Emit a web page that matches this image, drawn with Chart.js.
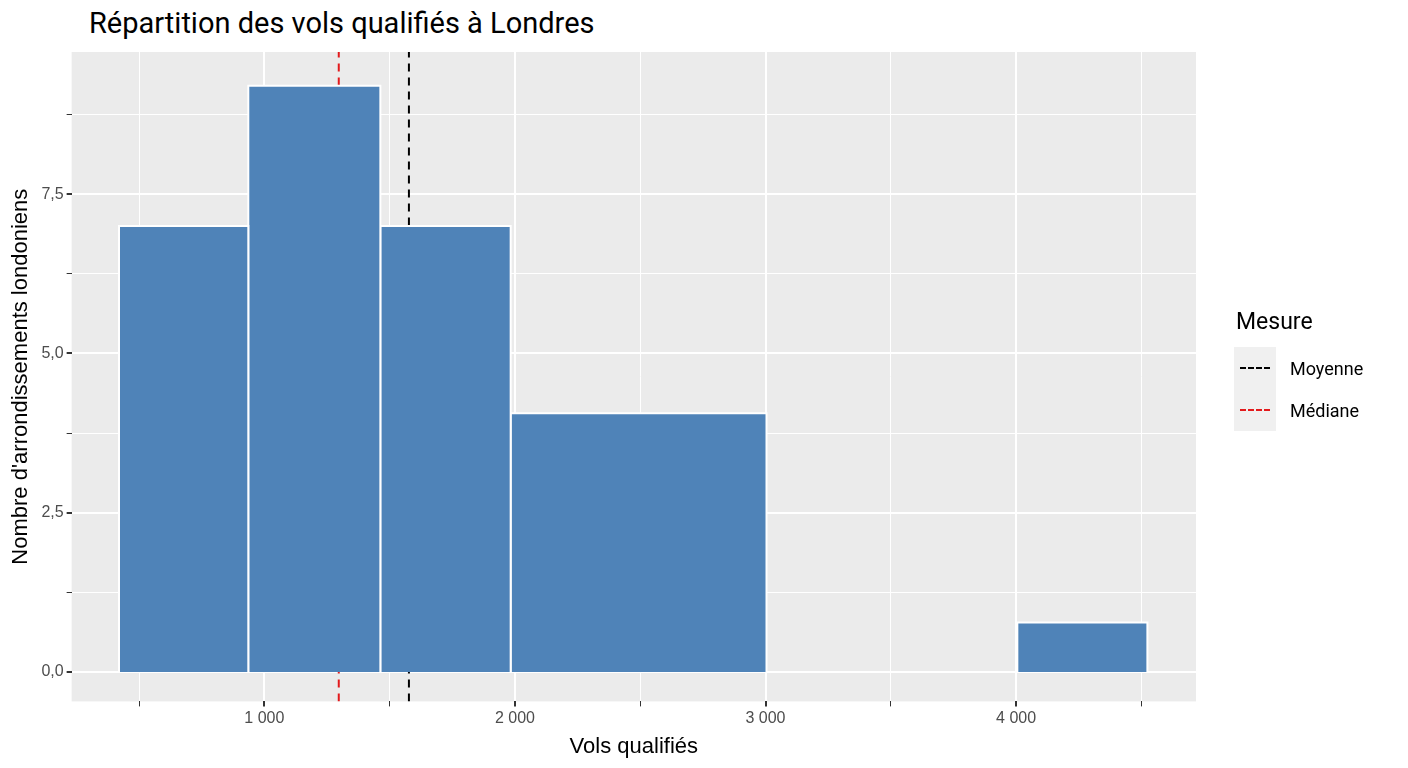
<!DOCTYPE html>
<html>
<head>
<meta charset="utf-8">
<script src="https://cdn.jsdelivr.net/npm/chart.js@4"></script>
<style>
  body { margin: 0; background: #fff; font-family: Roboto, "Liberation Sans", sans-serif; }
  #wrap { position: relative; width: 1408px; height: 768px; }
  #title { position: absolute; left: 89px; top: 6px; font-size: 29px; color: #000; }
  #legend { position: absolute; left: 1226px; top: 308px; font-size: 18px; color: #000; }
  #legend .head { font-size: 23px; margin: 0 0 12px 10px; }
  #legend .row { display: flex; align-items: center; height: 42px; padding-left: 8px; }
  #legend .key { width: 42px; height: 42px; background: #f0f0f0; position: relative; margin-right: 14px; }
  #legend .key i { position: absolute; left: 6px; right: 6px; top: 20px; border-top: 2px dashed; }
  canvas { position: absolute; left: 0; top: 0; }
</style>
</head>
<body>
<div id="wrap">
  <div id="title">Répartition des vols qualifiés à Londres</div>
  <canvas id="c" width="1408" height="768"></canvas>
  <div id="legend">
    <div class="head">Mesure</div>
    <div class="row"><div class="key"><i style="border-color:#000"></i></div>Moyenne</div>
    <div class="row"><div class="key"><i style="border-color:#e31a1c"></i></div>Médiane</div>
  </div>
</div>
<script>
// ── Data ───────────────────────────────────────────────
const binStarts = [420, 936, 1463, 1983, 4005];
const binEnds   = [936, 1463, 1983, 3004, 4524];
const counts    = [7, 9.2, 7, 4.06, 0.78];
const meanValue = 1577;
const medianValue = 1297;
const xTicks = [1000, 2000, 3000, 4000];
const yTicks = [0, 2.5, 5, 7.5];

const frNum = v => v.toLocaleString('fr-FR').replace(/\u202f|\u00a0/g, ' ');

const barSets = counts.map((c, i) => ({
  type: 'line',
  data: [{x: binStarts[i], y: 0}, {x: binStarts[i], y: c}, {x: binEnds[i], y: c}, {x: binEnds[i], y: 0}],
  borderColor: '#ffffff', borderWidth: 2, backgroundColor: '#4f83b8',
  fill: 'origin', pointRadius: 0, tension: 0,
}));
const vline = (x, color) => ({
  type: 'line', data: [{x, y: -0.46}, {x, y: 9.73}],
  borderColor: color, borderWidth: 2, borderDash: [8, 6], pointRadius: 0, fill: false,
});

const panelBg = {
  id: 'panelBg',
  beforeDraw(chart) {
    const {ctx, chartArea: a} = chart;
    ctx.save();
    ctx.fillStyle = '#ebebeb';
    ctx.fillRect(a.left, a.top, a.right - a.left, a.bottom - a.top);
    ctx.restore();
  }
};

new Chart(document.getElementById('c'), {
  type: 'scatter',
  data: { datasets: [...barSets, vline(medianValue, '#e31a1c'), vline(meanValue, '#000000')] },
  options: {
    responsive: false, animation: false,
    layout: { padding: { top: 52, right: 212, left: 4, bottom: 4 } },
    plugins: { legend: { display: false }, tooltip: { enabled: false } },
    scales: {
      x: {
        type: 'linear', min: 231, max: 4718,
        afterBuildTicks: s => { s.ticks = [500, 1000, 1500, 2000, 2500, 3000, 3500, 4000, 4500].map(v => ({value: v})); },
        ticks: { color: '#4d4d4d', font: { size: 16 }, callback: v => xTicks.includes(v) ? frNum(v) : '' },
        grid: { color: '#ffffff', lineWidth: c => (c.tick && xTicks.includes(c.tick.value)) ? 2 : 1, drawTicks: true, tickColor: '#333', tickLength: 5 },
        border: { display: false },
        title: { display: true, text: 'Vols qualifiés', color: '#000', font: { size: 22 }, padding: { top: 2 } },
      },
      y: {
        min: -0.46, max: 9.73,
        afterBuildTicks: s => { s.ticks = [0, 1.25, 2.5, 3.75, 5, 6.25, 7.5, 8.75].map(v => ({value: v})); },
        ticks: { color: '#4d4d4d', font: { size: 16 }, callback: v => yTicks.includes(v) ? v.toFixed(1).replace('.', ',') : '' },
        grid: { color: '#ffffff', lineWidth: c => (c.tick && yTicks.includes(c.tick.value)) ? 2 : 1, tickColor: '#333', tickLength: 5 },
        border: { display: false },
        title: { display: true, text: "Nombre d'arrondissements londoniens", color: '#000', font: { size: 22 } },
      },
    },
  },
  plugins: [panelBg],
});
</script>
</body>
</html>
